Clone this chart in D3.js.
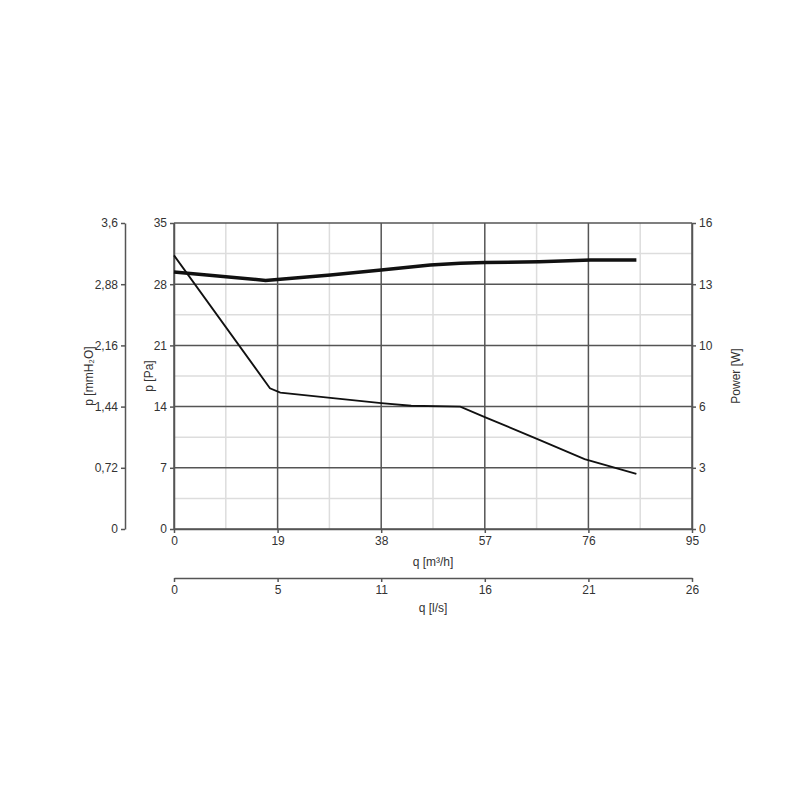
<!DOCTYPE html>
<html><head><meta charset="utf-8">
<script src="https://cdn.jsdelivr.net/npm/d3@7"></script>
<style>body{margin:0;background:#fff}text{font-family:Arial,"Liberation Sans",sans-serif;font-size:12px;fill:#333}</style>
</head><body><svg id="c" width="800" height="800"></svg>
<script>
const qTicks=[0,19,38,57,76,95];
const lsLabels=["0","5","11","16","21","26"];
const paTicks=[0,7,14,21,28,35];
const mmLabels=["0","0,72","1,44","2,16","2,88","3,6"];
const wLabels=["0","3","6","10","13","16"];
const pressQ=[0,17.6,19.5,28.7,38,43.5,52.5,57,67,75.3,84.8];
const pressPa=[31.3,16.1,15.6,15.0,14.4,14.1,14.0,12.8,10.2,8.0,6.3];
const powQ=[0,16.8,28.7,38,47,52.5,57,67,76.4,84.8];
const powW=[13.44,13.0,13.28,13.54,13.8,13.9,13.93,13.98,14.07,14.07];

const svg=d3.select("#c");
const L=174,R=692,T=223,B=529;
const x=d3.scaleLinear().domain([0,95]).range([L,R]);
const y=d3.scaleLinear().domain([0,35]).range([B,T]);
const yW=d3.scaleLinear().domain([0,16]).range([B,T]);
const yMM=d3.scaleLinear().domain([0,3.6]).range([B,T]);
for(let i=1;i<10;i+=2){const v=9.5*i;svg.append("line").attr("x1",x(v)).attr("x2",x(v)).attr("y1",T).attr("y2",B).attr("stroke","#ddd").attr("stroke-width",1.5);}
for(let i=0;i<5;i++){const v=7*i+3.5;svg.append("line").attr("x1",L).attr("x2",R).attr("y1",y(v)).attr("y2",y(v)).attr("stroke","#ddd").attr("stroke-width",1.5);}
qTicks.forEach(v=>svg.append("line").attr("x1",x(v)).attr("x2",x(v)).attr("y1",T).attr("y2",B).attr("stroke","#555").attr("stroke-width",1.5));
paTicks.forEach(v=>svg.append("line").attr("x1",L).attr("x2",R).attr("y1",y(v)).attr("y2",y(v)).attr("stroke","#555").attr("stroke-width",1.5));
function style(g){g.selectAll("path,line").attr("stroke","#555").attr("stroke-width",1.5);g.selectAll("text").style("font-size","12px").attr("fill","#333");}
svg.append("g").attr("transform",`translate(${L},0)`).call(d3.axisLeft(y).tickValues(paTicks).tickSize(4).tickSizeOuter(0)).call(style);
svg.append("g").attr("transform",`translate(${R},0)`).call(d3.axisRight(yW).tickValues(wLabels.map((d,i)=>3.2*i)).tickFormat((d,i)=>wLabels[i]).tickSize(4).tickSizeOuter(0)).call(style);
svg.append("g").attr("transform",`translate(125,0)`).call(d3.axisLeft(yMM).tickValues(mmLabels.map((d,i)=>0.72*i)).tickFormat((d,i)=>mmLabels[i]).tickSize(4).tickSizeOuter(0)).call(style);
svg.append("g").attr("transform",`translate(0,${B})`).call(d3.axisBottom(x).tickValues(qTicks).tickSize(4).tickSizeOuter(0)).call(style);
svg.append("g").attr("transform",`translate(0,578)`).call(d3.axisBottom(x).tickValues(qTicks).tickFormat((d,i)=>lsLabels[i]).tickSize(4).tickSizeOuter(0)).call(style);
const lp=d3.line().x(d=>x(d[0])).y(d=>y(d[1]));
svg.append("path").attr("d",lp(pressQ.map((q,i)=>[q,pressPa[i]]))).attr("fill","none").attr("stroke","#111").attr("stroke-width",1.8);
const lw=d3.line().x(d=>x(d[0])).y(d=>yW(d[1]));
svg.append("path").attr("d",lw(powQ.map((q,i)=>[q,powW[i]]))).attr("fill","none").attr("stroke","#111").attr("stroke-width",3.5);
svg.append("text").attr("transform","translate(93,376) rotate(-90)").attr("text-anchor","middle").text("p [mmH₂O]");
svg.append("text").attr("transform","translate(153,376) rotate(-90)").attr("text-anchor","middle").text("p [Pa]");
svg.append("text").attr("transform","translate(740,376) rotate(-90)").attr("text-anchor","middle").text("Power [W]");
svg.append("text").attr("x",433).attr("y",566).attr("text-anchor","middle").text("q [m³/h]");
svg.append("text").attr("x",433).attr("y",612).attr("text-anchor","middle").text("q [l/s]");
</script></body></html>
